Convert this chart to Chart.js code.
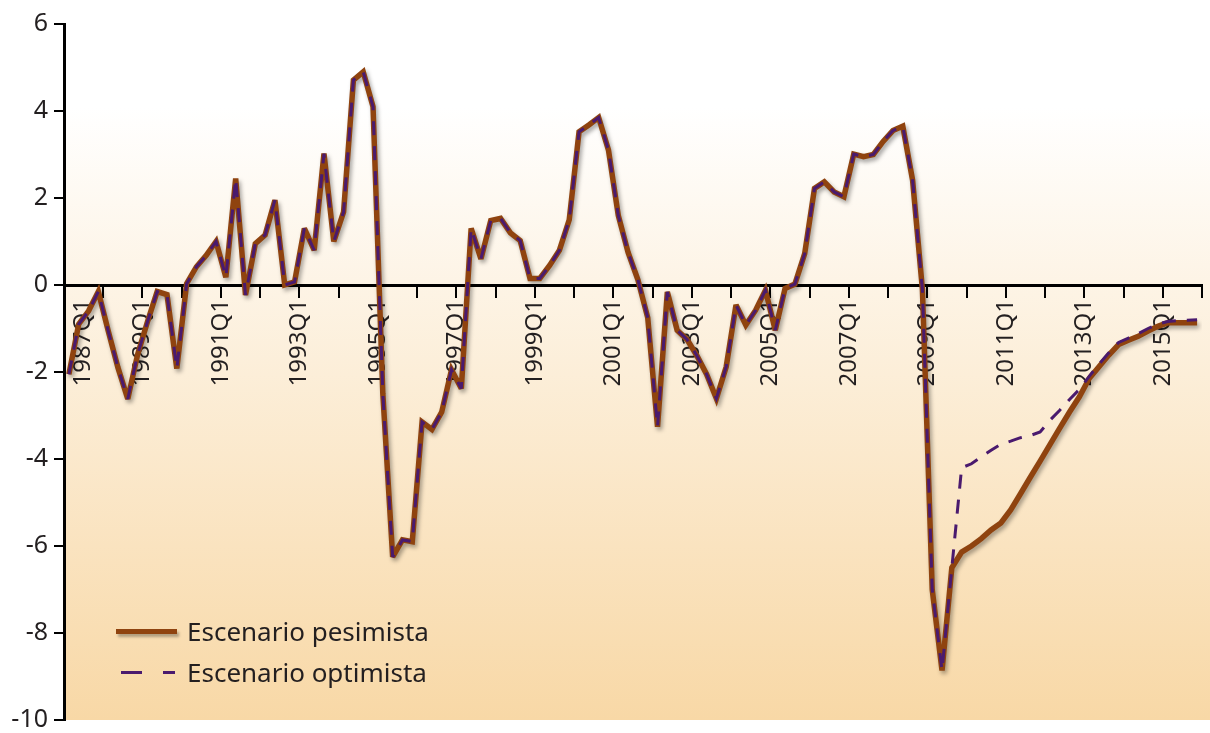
<!DOCTYPE html>
<html>
<head>
<meta charset="utf-8">
<script src="https://cdn.jsdelivr.net/npm/chart.js@4.4.1/dist/chart.umd.min.js"></script>
<style>
  body { margin: 0; background: #fff; }
  #wrap { position: relative; width: 1210px; height: 733px; }
  #wrap canvas { position: absolute; left: 0; top: 0; }
  .legend { position: absolute; left: 116px; top: 0; font-family: "Noto Sans", sans-serif; font-size: 26px; color: #231f20; }
  .legend .row { position: absolute; left: 0; white-space: nowrap; height: 34px; line-height: 34px; }
  .legend .txt { position: absolute; left: 71px; top: 0; }
  .sw-solid { position: absolute; left: 0; top: 15px; width: 61px; height: 5px; background: #8f430f; box-shadow: 2px 3px 3px rgba(0,0,0,0.3); }
  .sw-dash { position: absolute; top: 16px; height: 3px; background: #4a1a6e; }
</style>
</head>
<body>
<div id="wrap">
  <canvas id="myChart" width="1210" height="733"></canvas>
  <div class="legend">
    <div class="row" style="top:614px">
      <div class="sw-solid"></div>
      <span class="txt">Escenario pesimista</span>
    </div>
    <div class="row" style="top:655px">
      <div class="sw-dash" style="left:5px;width:21px"></div>
      <div class="sw-dash" style="left:47px;width:12px"></div>
      <span class="txt">Escenario optimista</span>
    </div>
  </div>
</div>
<script>
// quarterly series, 1987Q1 .. 2015Q4
var quarters = [];
for (var yr = 1987; yr <= 2015; yr++) {
    for (var q = 1; q <= 4; q++) quarters.push(yr + 'Q' + q);
}

var tickLabels = ['1987Q1', '1989Q1', '1991Q1', '1993Q1', '1995Q1', '1997Q1', '1999Q1', '2001Q1',
                  '2003Q1', '2005Q1', '2007Q1', '2009Q1', '2011Q1', '2013Q1', '2015Q1'];

var pesimista = [
    -2.05, -0.9, -0.6, -0.15, -1.05, -1.9, -2.62, -1.6, -0.85, -0.15, -0.22, -1.92,
    0.03, 0.42, 0.68, 1.0, 0.18, 2.45, -0.23, 0.95, 1.15, 1.95, 0.0, 0.07,
    1.3, 0.8, 3.02, 1.0, 1.68, 4.71, 4.9, 4.1, -2.5, -6.25, -5.86, -5.9,
    -3.15, -3.32, -2.92, -1.95, -2.38, 1.3, 0.6, 1.48, 1.53, 1.2, 1.02, 0.15,
    0.15, 0.45, 0.8, 1.5, 3.52, 3.68, 3.85, 3.1, 1.6, 0.75, 0.12, -0.75,
    -3.26, -0.16, -1.04, -1.25, -1.62, -2.05, -2.61, -1.88, -0.46, -0.92, -0.58, -0.12,
    -1.04, -0.08, 0.02, 0.72, 2.22, 2.37, 2.14, 2.03, 3.01, 2.95, 3.0, 3.3,
    3.55, 3.65, 2.41, -0.1, -7.0, -8.86, -6.5, -6.14, -6.0, -5.83, -5.63, -5.47,
    -5.17, -4.8, -4.42, -4.05, -3.67, -3.29, -2.92, -2.57, -2.15, -1.88, -1.61, -1.37,
    -1.27, -1.18, -1.06, -0.95, -0.87, -0.87, -0.87, -0.87
];

var optimista = [
    -2.05, -0.9, -0.6, -0.15, -1.05, -1.9, -2.62, -1.6, -0.85, -0.15, -0.22, -1.92,
    0.03, 0.42, 0.68, 1.0, 0.18, 2.45, -0.23, 0.95, 1.15, 1.95, 0.0, 0.07,
    1.3, 0.8, 3.02, 1.0, 1.68, 4.71, 4.9, 4.1, -2.5, -6.25, -5.86, -5.9,
    -3.15, -3.32, -2.92, -1.95, -2.38, 1.3, 0.6, 1.48, 1.53, 1.2, 1.02, 0.15,
    0.15, 0.45, 0.8, 1.5, 3.52, 3.68, 3.85, 3.1, 1.6, 0.75, 0.12, -0.75,
    -3.26, -0.16, -1.04, -1.25, -1.62, -2.05, -2.61, -1.88, -0.46, -0.92, -0.58, -0.12,
    -1.04, -0.08, 0.02, 0.72, 2.22, 2.37, 2.14, 2.03, 3.01, 2.95, 3.0, 3.3,
    3.55, 3.65, 2.41, -0.1, -7.0, -8.86, -6.5, -4.2, -4.11, -3.95, -3.8, -3.66,
    -3.59, -3.51, -3.46, -3.38, -3.11, -2.88, -2.63, -2.4, -2.1, -1.82, -1.56, -1.32,
    -1.22, -1.12, -1.0, -0.9, -0.84, -0.82, -0.81, -0.8
];

function toPoints(arr) {
    var pts = [];
    for (var i = 0; i < arr.length; i++) {
        pts.push({ x: i + 0.5, y: arr[i], q: quarters[i] });
    }
    return pts;
}

// no extra room for edge labels, the plot box is set by layout.padding
function noScalePadding(scale) {
    scale.paddingLeft = 0;
    scale.paddingRight = 0;
    scale.paddingTop = 0;
    scale.paddingBottom = 0;
}

var bgPlugin = {
    id: 'bgGradient',
    beforeDraw: function(chart) {
        var ctx = chart.ctx;
        var a = chart.chartArea;
        var grad = ctx.createLinearGradient(0, a.top, 0, a.bottom);
        grad.addColorStop(0, '#ffffff');
        grad.addColorStop(0.12, '#ffffff');
        grad.addColorStop(1, '#f8d8a6');
        ctx.save();
        ctx.fillStyle = grad;
        ctx.fillRect(a.left, a.top, chart.width - a.left, a.bottom - a.top);
        ctx.restore();
    }
};

var shadowPlugin = {
    id: 'lineShadow',
    beforeDatasetDraw: function(chart, args) {
        var ctx = chart.ctx;
        ctx.save();
        ctx.miterLimit = 3;  // keep the sharp dips from growing long spikes
        if (args.index === 0) {
            ctx.shadowColor = 'rgba(0,0,0,0.35)';
            ctx.shadowBlur = 4;
            ctx.shadowOffsetX = 2;
            ctx.shadowOffsetY = 3;
        }
    },
    afterDatasetDraw: function(chart) {
        chart.ctx.restore();
    }
};

var fontFamily = '"Noto Sans", sans-serif';
var ctx = document.getElementById('myChart').getContext('2d');

var myChart = new Chart(ctx, {
    type: 'line',
    data: {
        datasets: [{
            label: 'Escenario pesimista',
            data: toPoints(pesimista),
            borderColor: '#8f430f',
            borderWidth: 5.5,
            pointRadius: 0,
            borderJoinStyle: 'miter',
            order: 2
        }, {
            label: 'Escenario optimista',
            data: toPoints(optimista),
            borderColor: '#4a1a6e',
            borderWidth: 3,
            borderDash: [14, 11],
            pointRadius: 0,
            borderJoinStyle: 'miter',
            order: 1
        }]
    },
    options: {
        responsive: false,
        animation: false,
        layout: {
            padding: { top: 24, right: 8, bottom: 13, left: 0 }
        },
        plugins: {
            legend: { display: false },
            tooltip: { enabled: false }
        },
        scales: {
            x: {
                type: 'linear',
                position: { y: 0 },
                min: 0,
                max: 116,
                afterBuildTicks: function(scale) {
                    var t = [{ value: 2 }];
                    for (var v = 4; v <= 116; v += 4) t.push({ value: v });
                    scale.ticks = t;
                },
                afterFit: noScalePadding,
                grid: {
                    drawOnChartArea: false,
                    tickLength: 11,
                    lineWidth: 2,
                    color: function(c) {
                        return (c.tick && c.tick.value % 4 === 0) ? '#000' : 'rgba(0,0,0,0)';
                    }
                },
                border: { display: true, color: '#000', width: 3 },
                ticks: {
                    autoSkip: false,
                    minRotation: 90,
                    maxRotation: 90,
                    padding: 3,
                    color: '#231f20',
                    font: { family: fontFamily, size: 24 },
                    callback: function(value) {
                        if (value === 2) return tickLabels[0];
                        if (value % 8 === 0 && value / 8 < tickLabels.length) return tickLabels[value / 8];
                        return '';
                    }
                }
            },
            y: {
                min: -10,
                max: 6,
                afterFit: function(scale) {
                    noScalePadding(scale);
                    scale.width = 64;
                },
                grid: {
                    drawOnChartArea: false,
                    tickLength: 10,
                    lineWidth: 2,
                    color: '#000'
                },
                border: { display: true, color: '#000', width: 3 },
                ticks: {
                    stepSize: 2,
                    padding: 6,
                    color: '#231f20',
                    font: { family: fontFamily, size: 25 }
                }
            }
        }
    },
    plugins: [bgPlugin, shadowPlugin]
});
</script>
</body>
</html>
